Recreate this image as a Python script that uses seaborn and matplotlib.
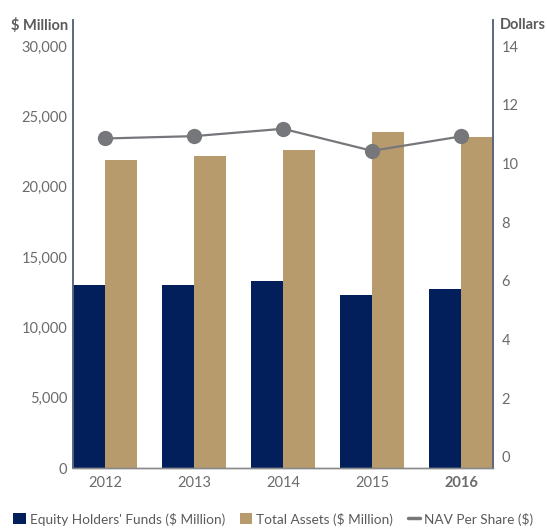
import matplotlib
matplotlib.use("Agg")
import matplotlib.pyplot as plt
import seaborn as sns
import pandas as pd
import numpy as np
from matplotlib.patches import Patch
from matplotlib.lines import Line2D

years = ["2012", "2013", "2014", "2015", "2016"]
equity = [13000, 13000, 13290, 12300, 12720]
total_assets = [21890, 22170, 22600, 23880, 23530]
nav = [10.85, 10.93, 11.18, 10.43, 10.92]
series_names = ["Equity Holders' Funds ($ Million)", "Total Assets ($ Million)", "NAV Per Share ($)"]
left_ticks = [0, 5000, 10000, 15000, 20000, 25000, 30000]
right_ticks = [0, 2, 4, 6, 8, 10, 12, 14]

NAVY = "#021F5C"
GOLD = "#B89B6D"
LINEC = "#76777B"
TXT = "#6B6B6B"
SPINE = "#55637A"

sns.set_theme(style="white")
plt.rcParams['font.family'] = ['Lato', 'DejaVu Sans']

df = pd.DataFrame({
    "year": years * 2,
    "value": equity + total_assets,
    "series": [series_names[0]] * 5 + [series_names[1]] * 5,
})

fig = plt.figure(figsize=(5.47, 5.28), dpi=100)
ax = fig.add_axes([73/547, 1 - 468/528, (493-73)/547, (468-20)/528])

sns.barplot(data=df, x="year", y="value", hue="series", palette=[NAVY, GOLD],
            width=0.72, ax=ax, legend=False, saturation=1, linewidth=0)
ax.set_xlim(-0.36, 4.36)
ax.set_ylim(0, 31850)
ax.set_yticks(left_ticks)
ax.set_yticklabels([f"{v:,}" for v in left_ticks])
ax.set_xlabel("")
ax.set_ylabel("")

ax2 = ax.twinx()
sns.lineplot(x=np.arange(len(years)), y=nav, ax=ax2, color=LINEC, lw=1.6,
             marker="o", markersize=11, markeredgewidth=0, markerfacecolor=LINEC)
ax2.set_ylim(-0.375, 14.886)
ax2.set_yticks(right_ticks)
ax2.set_yticklabels([str(v) for v in right_ticks])
ax2.set_xlim(-0.36, 4.36)
ax2.set_ylabel("")

for a in (ax, ax2):
    a.tick_params(axis="both", length=0, labelsize=10.5, labelcolor=TXT, pad=4)
    a.spines["top"].set_visible(False)
    a.spines["left"].set_color(SPINE)
    a.spines["right"].set_color(SPINE)
    a.spines["left"].set_linewidth(1.1)
    a.spines["right"].set_linewidth(1.1)
    a.spines["bottom"].set_color("#8A8A8A")
    a.spines["bottom"].set_linewidth(1.0)
    a.grid(False)

ax.tick_params(axis="x", labelsize=10.5, labelcolor=TXT, pad=6)
for lbl in ax.get_xticklabels():
    if lbl.get_text() == "2016":
        lbl.set_fontweight("bold")
ax2.tick_params(axis="y", pad=6)

fig.text(68/547, 1 - 25/528, "$ Million", ha="right", va="center",
         fontsize=10.5, fontweight="bold", color="#5A5A5A")
fig.text(500/547, 1 - 25/528, "Dollars", ha="left", va="center",
         fontsize=10.5, fontweight="bold", color="#5A5A5A")

handles = [Patch(facecolor=NAVY, edgecolor="none"),
           Patch(facecolor=GOLD, edgecolor="none"),
           Line2D([0], [0], color=LINEC, lw=2.5)]
leg = fig.legend(handles, series_names, loc="center", bbox_to_anchor=(0.5, 1 - 519/528),
                 ncol=3, frameon=False, fontsize=9.8, handlelength=0.9, handleheight=0.9,
                 handletextpad=0.3, columnspacing=1.1, borderaxespad=0, borderpad=0)
for t in leg.get_texts():
    t.set_color("#5A5A5A")

fig.savefig("out.png", dpi=100)
